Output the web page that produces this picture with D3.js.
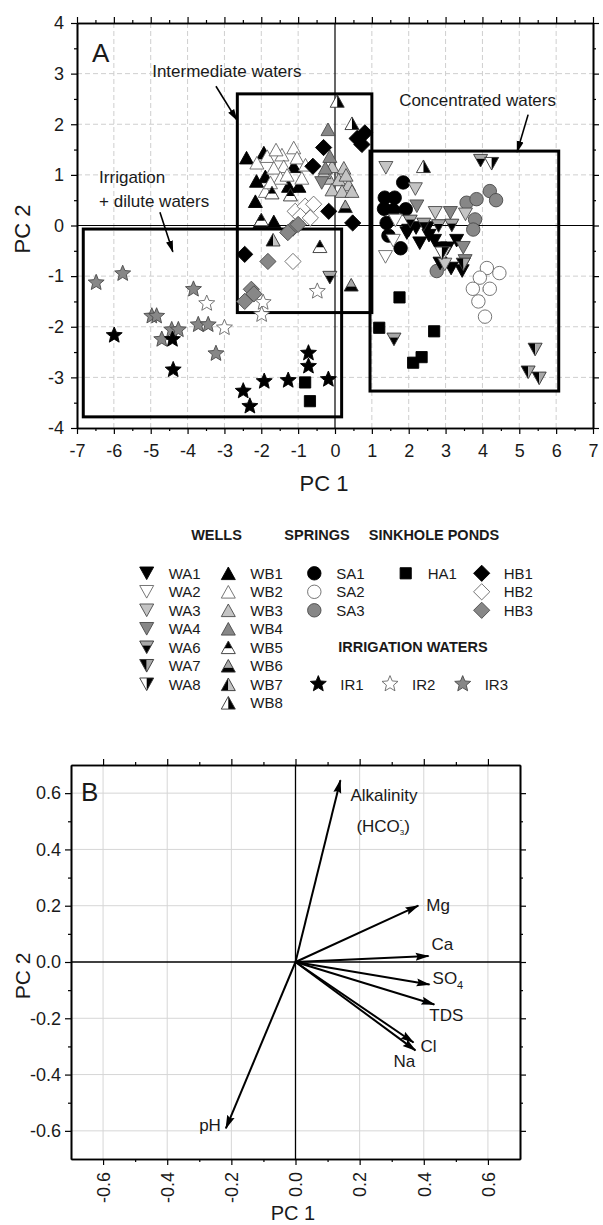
<!DOCTYPE html>
<html><head><meta charset="utf-8">
<script src="https://cdn.jsdelivr.net/npm/d3@7/dist/d3.min.js"></script>
<style>
body{margin:0;background:#fff}
svg{display:block}
text{font-family:"Liberation Sans",Arial,Helvetica,sans-serif;fill:#1a1a1a}
</style>
</head><body>
<svg id="c" width="603" height="1225"></svg>
<script>
// ---------------- DATA: panel A scores (PC1, PC2) ----------------
const WA1 = [[1.95,-0.15],[2.0,-0.1],[2.3,-0.35],[2.55,-0.2],[2.85,-0.45],[3.05,-0.45],[2.85,-0.75],[3.15,-0.85],[3.45,-0.9],[2.5,-0.05],[3.3,-0.3],[2.2,-0.05],[2.7,-0.3]];
const WA2 = [[1.37,-0.62],[1.64,0.1],[1.58,-0.3],[2.95,-0.55]];
const WA3 = [[1.38,1.14],[2.18,0.72],[2.72,0.25],[3.54,0.22],[2.98,-0.77]];
const WA4 = [[2.22,0.38],[3.13,0.25],[3.48,-0.44],[3.53,-0.7],[-0.36,0.84]];
const WA6 = [[2.04,0.08],[2.41,0.02],[2.81,-0.01],[3.17,0.0],[-0.14,-1.03],[1.6,-2.25],[3.95,1.28]];
const WA7 = [[5.43,-2.45],[5.24,-2.9],[5.54,-3.02],[3.48,-0.77]];
const WA8 = [[4.25,1.22],[2.9,-0.55]];
const WB1 = [[-2.4,1.34],[-1.93,1.44],[-1.12,1.17],[-1.89,0.97],[-1.26,0.78],[-0.98,0.78],[-2.16,0.48],[-2.03,0.08],[-1.66,0.08],[-2.13,0.88]];
const WB2 = [[-2.12,1.24],[-1.84,1.37],[-1.44,1.40],[-1.12,1.54],[-1.03,1.34],[-1.39,1.17],[-1.66,1.14],[-1.48,0.94],[-1.89,0.68],[-0.90,0.94],[-1.6,1.5],[-1.3,1.0],[-1.75,0.85],[-0.8,1.2]];
const WB3 = [[-0.08,1.17],[0.24,1.14],[-0.17,0.94],[0.10,0.91],[0.37,0.81],[-0.08,0.71],[0.19,0.68],[0.46,0.68],[0.3,1.0],[-0.3,1.05]];
const WB4 = [[-0.19,1.9],[-0.26,1.14],[-0.14,1.37]];
const WB5 = [[-0.41,-0.41],[-2.0,0.12],[-1.71,0.65],[-1.21,0.61]];
const WB6 = [[0.28,0.38],[0.44,-1.17]];
const WB7 = [[-1.68,-0.28]];
const WB8 = [[0.06,2.46],[0.46,2.02],[2.40,1.17]];
const SA1 = [[1.85,0.85],[1.35,0.55],[1.62,0.55],[1.33,0.33],[1.58,0.3],[1.92,0.32],[1.45,-0.2],[1.78,-0.45],[1.4,0.05]];
const SA2 = [[4.12,-0.84],[4.46,-0.94],[3.93,-1.03],[4.2,-1.25],[3.74,-1.25],[3.89,-1.5],[4.07,-1.8]];
const SA3 = [[3.57,0.45],[3.84,0.52],[4.2,0.68],[4.37,0.5],[3.8,0.12],[3.75,-0.08],[2.76,-0.9]];
const HA1 = [[-0.81,-3.1],[-0.68,-3.47],[1.75,-1.42],[1.2,-2.02],[2.69,-2.09],[2.12,-2.71],[2.35,-2.6]];
const HB1 = [[-0.31,1.54],[-0.6,1.17],[0.73,1.6],[0.81,1.83],[0.6,1.72],[-0.17,0.28],[0.48,0.05],[-2.45,-0.57]];
const HB2 = [[-1.08,0.28],[-0.81,0.38],[-0.58,0.42],[-0.94,0.18],[-0.67,0.15],[-1.14,-0.71]];
const HB3 = [[-1.82,-0.71],[-2.27,-1.26],[-2.45,-1.5],[-1.14,-0.05],[-1.0,0.02],[-1.28,-0.14],[-2.2,-1.35]];
const IR1 = [[-5.99,-2.17],[-4.41,-2.25],[-4.39,-2.85],[-2.49,-3.27],[-2.31,-3.57],[-1.92,-3.08],[-1.27,-3.06],[-0.72,-2.52],[-0.72,-2.78],[-0.18,-3.04]];
const IR2 = [[-3.48,-1.54],[-3.0,-2.02],[-1.95,-1.52],[-1.99,-1.76],[-0.48,-1.3]];
const IR3 = [[-6.48,-1.13],[-5.76,-0.95],[-4.97,-1.79],[-4.84,-1.79],[-4.7,-2.25],[-4.43,-2.06],[-4.25,-2.06],[-3.84,-1.26],[-3.71,-1.96],[-3.44,-1.96],[-3.23,-2.53]];

// group boxes (PC1 min/max, PC2 min/max)
const boxNames = ["Irrigation","Intermediate","Concentrated"];
const boxX0 = [-6.83, -2.65, 0.95];
const boxX1 = [0.18, 1.0, 6.07];
const boxY0 = [-3.78, -1.72, -3.27];
const boxY1 = [-0.07, 2.6, 1.47];

// ticks
const ticksA_x = [-7,-6,-5,-4,-3,-2,-1,0,1,2,3,4,5,6,7];
const ticksA_y = [-4,-3,-2,-1,0,1,2,3,4];
const ticksB = [-0.6,-0.4,-0.2,0.0,0.2,0.4,0.6];

// ---------------- DATA: panel B loadings ----------------
const loadVars = ["Alkalinity","Mg","Ca","SO4","TDS","Cl","Na","pH"];
const loadPC1 = [0.14, 0.383, 0.415, 0.418, 0.433, 0.368, 0.374, -0.217];
const loadPC2 = [0.646, 0.20, 0.021, -0.08, -0.151, -0.286, -0.314, -0.591];

// ---------------- styles ----------------
const BLACK="#000", WHITE="#fff", LIGHT="#c4c4c4", GRAY="#878787", MID="#a8a8a8";
const styles = {
  WA1:{shape:"down",fill:BLACK}, WA2:{shape:"down",fill:WHITE}, WA3:{shape:"down",fill:LIGHT}, WA4:{shape:"down",fill:GRAY},
  WA6:{shape:"down",fill:MID,fill2:BLACK,split:"tb",at:-0.15}, WA7:{shape:"down",fill:BLACK,fill2:MID,split:"lr"}, WA8:{shape:"down",fill:WHITE,fill2:BLACK,split:"lr"},
  WB1:{shape:"up",fill:BLACK}, WB2:{shape:"up",fill:WHITE}, WB3:{shape:"up",fill:LIGHT}, WB4:{shape:"up",fill:GRAY},
  WB5:{shape:"up",fill:BLACK,fill2:WHITE,split:"tb",at:0.1}, WB6:{shape:"up",fill:MID,fill2:BLACK,split:"tb",at:0.15},
  WB7:{shape:"up",fill:BLACK,fill2:LIGHT,split:"lr"}, WB8:{shape:"up",fill:WHITE,fill2:BLACK,split:"lr"},
  SA1:{shape:"circle",fill:BLACK}, SA2:{shape:"circle",fill:WHITE}, SA3:{shape:"circle",fill:GRAY},
  HA1:{shape:"square",fill:BLACK},
  HB1:{shape:"diamond",fill:BLACK}, HB2:{shape:"diamond",fill:WHITE}, HB3:{shape:"diamond",fill:GRAY},
  IR1:{shape:"star",fill:BLACK}, IR2:{shape:"star",fill:WHITE}, IR3:{shape:"star",fill:GRAY}
};
const seriesData = {WA1,WA2,WA3,WA4,WA6,WA7,WA8,WB1,WB2,WB3,WB4,WB5,WB6,WB7,WB8,SA1,SA2,SA3,HA1,HB1,HB2,HB3,IR1,IR2,IR3};
const drawOrder = ["SA1","SA2","SA3","HA1","WB1","WB2","WB3","WB4","WB5","WB6","WB7","WB8","WA1","WA2","WA3","WA4","WA6","WA7","WA8","HB1","HB2","HB3","IR3","IR2","IR1"];

const SZ = 14;
function shapePath(shape, s){
  const h = s*0.9;
  switch(shape){
    case "down": return `M${-s/2},${-h/2}L${s/2},${-h/2}L0,${h/2}Z`;
    case "up": return `M${-s/2},${h/2}L${s/2},${h/2}L0,${-h/2}Z`;
    case "circle": { const r=s*0.48; return `M${r},0A${r},${r} 0 1,1 ${-r},0A${r},${r} 0 1,1 ${r},0Z`; }
    case "square": { const a=s*0.4; return `M${-a},${-a}H${a}V${a}H${-a}Z`; }
    case "diamond": { const d=s*0.58; return `M0,${-d}L${d},0L0,${d}L${-d},0Z`; }
    case "star": { let p=""; const R=s*0.6, r=R*0.45; for(let i=0;i<10;i++){const a=-Math.PI/2+i*Math.PI/5; const rr=i%2?r:R; p+=(i?"L":"M")+(rr*Math.cos(a)).toFixed(2)+","+(rr*Math.sin(a)).toFixed(2);} return p+"Z"; }
  }
}
function strokeFor(f){ return f===BLACK? "#000" : (f===WHITE? "#666" : "#4a4a4a"); }

const svg = d3.select("#c");
svg.append("rect").attr("width",603).attr("height",1225).attr("fill","#fff");
const defs = svg.append("defs");

// clip paths for split markers
Object.entries(styles).forEach(([k,st])=>{
  if(!st.split) return;
  const h = SZ*0.9;
  const a = defs.append("clipPath").attr("id",`clip-${k}-a`).attr("clipPathUnits","userSpaceOnUse");
  const b = defs.append("clipPath").attr("id",`clip-${k}-b`).attr("clipPathUnits","userSpaceOnUse");
  if(st.split==="lr"){
    a.append("rect").attr("x",-20).attr("y",-20).attr("width",20).attr("height",40);
    b.append("rect").attr("x",0).attr("y",-20).attr("width",20).attr("height",40);
  } else {
    const sy = st.at*h;
    a.append("rect").attr("x",-20).attr("y",-20).attr("width",40).attr("height",20+sy);
    b.append("rect").attr("x",-20).attr("y",sy).attr("width",40).attr("height",20);
  }
});

function drawMarker(g, key){
  const st = styles[key];
  const d = shapePath(st.shape, SZ);
  if(!st.split){
    g.append("path").attr("d",d).attr("fill",st.fill).attr("stroke",strokeFor(st.fill)).attr("stroke-width",0.9);
  } else {
    g.append("path").attr("d",d).attr("fill",st.fill).attr("clip-path",`url(#clip-${key}-a)`);
    g.append("path").attr("d",d).attr("fill",st.fill2).attr("clip-path",`url(#clip-${key}-b)`);
    g.append("path").attr("d",d).attr("fill","none").attr("stroke","#333").attr("stroke-width",0.9);
  }
}

// arrow markers
defs.append("marker").attr("id","arrA").attr("markerUnits","userSpaceOnUse")
  .attr("viewBox","0 -5 12 10").attr("refX",11).attr("refY",0).attr("markerWidth",12).attr("markerHeight",10).attr("orient","auto")
  .append("path").attr("d","M0,-3.5L12,0L0,3.5Z").attr("fill","#000");
defs.append("marker").attr("id","arrB").attr("markerUnits","userSpaceOnUse")
  .attr("viewBox","0 -5 14 10").attr("refX",13).attr("refY",0).attr("markerWidth",14).attr("markerHeight",10).attr("orient","auto")
  .append("path").attr("d","M0,-4L14,0L0,4L2,0Z").attr("fill","#000");

function styleAxis(sel, fs){
  sel.select(".domain").attr("stroke","#000").attr("stroke-width",1.6);
  sel.selectAll(".tick line").attr("stroke","#000").attr("stroke-width",1.2);
  sel.selectAll(".tick text").attr("font-size",fs).attr("fill","#1a1a1a").attr("font-family","Liberation Sans, Arial, sans-serif");
}

// ================= PANEL A =================
const xA = d3.scaleLinear().domain([-7,7]).range([77,593]);
const yA = d3.scaleLinear().domain([-4,4]).range([428,23]);
const gA = svg.append("g");

// grid
gA.append("g").selectAll("line").data(ticksA_x.filter(v=>v!==0 && v!==-7 && v!==7)).join("line")
  .attr("x1",d=>xA(d)).attr("x2",d=>xA(d)).attr("y1",yA(4)).attr("y2",yA(-4))
  .attr("stroke","#cfcfcf").attr("stroke-width",1).attr("stroke-dasharray","5,3");
gA.append("g").selectAll("line").data(ticksA_y.filter(v=>v!==0 && v!==-4 && v!==4)).join("line")
  .attr("x1",xA(-7)).attr("x2",xA(7)).attr("y1",d=>yA(d)).attr("y2",d=>yA(d))
  .attr("stroke","#cfcfcf").attr("stroke-width",1).attr("stroke-dasharray","5,3");
// zero lines
gA.append("line").attr("x1",xA(0)).attr("x2",xA(0)).attr("y1",yA(4)).attr("y2",yA(-4)).attr("stroke","#000").attr("stroke-width",1.2);
gA.append("line").attr("x1",xA(-7)).attr("x2",xA(7)).attr("y1",yA(0)).attr("y2",yA(0)).attr("stroke","#000").attr("stroke-width",1.2);

// boxes
gA.append("g").selectAll("rect").data(boxNames).join("rect")
  .attr("x",(d,i)=>xA(boxX0[i])).attr("y",(d,i)=>yA(boxY1[i]))
  .attr("width",(d,i)=>xA(boxX1[i])-xA(boxX0[i])).attr("height",(d,i)=>yA(boxY0[i])-yA(boxY1[i]))
  .attr("fill","none").attr("stroke","#000").attr("stroke-width",3);

// points
drawOrder.forEach(k=>{
  seriesData[k].forEach(p=>{
    const g = gA.append("g").attr("transform",`translate(${xA(p[0])},${yA(p[1])})`);
    drawMarker(g,k);
  });
});

// axes A
const minorA_x = d3.range(-13,14,2).map(v=>v/2);
const minorA_y = d3.range(-7,8,2).map(v=>v/2);
const fmtA = d=>String(d);
let ax;
ax = gA.append("g").attr("transform",`translate(0,${yA(-4)})`).call(d3.axisBottom(xA).tickValues(ticksA_x).tickFormat(fmtA).tickSize(6).tickPadding(10).tickSizeOuter(0)); styleAxis(ax,"18px");
ax = gA.append("g").attr("transform",`translate(0,${yA(-4)})`).call(d3.axisBottom(xA).tickValues(minorA_x).tickFormat("").tickSize(3).tickSizeOuter(0)); styleAxis(ax,"18px");
ax = gA.append("g").attr("transform",`translate(0,${yA(4)})`).call(d3.axisTop(xA).tickValues(ticksA_x).tickFormat("").tickSize(6).tickSizeOuter(0)); styleAxis(ax,"18px");
ax = gA.append("g").attr("transform",`translate(0,${yA(4)})`).call(d3.axisTop(xA).tickValues(minorA_x).tickFormat("").tickSize(3).tickSizeOuter(0)); styleAxis(ax,"18px");
ax = gA.append("g").attr("transform",`translate(${xA(-7)},0)`).call(d3.axisLeft(yA).tickValues(ticksA_y).tickFormat(fmtA).tickSize(6).tickPadding(7).tickSizeOuter(0)); styleAxis(ax,"18px");
ax = gA.append("g").attr("transform",`translate(${xA(-7)},0)`).call(d3.axisLeft(yA).tickValues(minorA_y).tickFormat("").tickSize(3).tickSizeOuter(0)); styleAxis(ax,"18px");
ax = gA.append("g").attr("transform",`translate(${xA(7)},0)`).call(d3.axisRight(yA).tickValues(ticksA_y).tickFormat("").tickSize(6).tickSizeOuter(0)); styleAxis(ax,"18px");
ax = gA.append("g").attr("transform",`translate(${xA(7)},0)`).call(d3.axisRight(yA).tickValues(minorA_y).tickFormat("").tickSize(3).tickSizeOuter(0)); styleAxis(ax,"18px");

// titles A
gA.append("text").attr("x",324).attr("y",491).attr("text-anchor","middle").attr("font-size","22px").text("PC 1");
gA.append("text").attr("transform","translate(30,229) rotate(-90)").attr("text-anchor","middle").attr("font-size","22px").text("PC 2");
gA.append("text").attr("x",92).attr("y",62).attr("font-size","26px").text("A");

// annotations
const annText = ["Intermediate waters","Concentrated waters","Irrigation","+ dilute waters"];
const annX = [-4.96, 1.74, -6.4, -6.4];
const annY = [2.94, 2.37, 0.83, 0.36];
gA.append("g").selectAll("text").data(annText).join("text")
  .attr("x",(d,i)=>xA(annX[i])).attr("y",(d,i)=>yA(annY[i])).attr("font-size","17px").text(d=>d);
const arrFrom = [[-3.23,2.75],[5.24,2.19],[-4.75,0.26]];
const arrTo = [[-2.66,2.08],[4.94,1.45],[-4.4,-0.52]];
gA.append("g").selectAll("line").data(arrFrom).join("line")
  .attr("x1",(d)=>xA(d[0])).attr("y1",d=>yA(d[1]))
  .attr("x2",(d,i)=>xA(arrTo[i][0])).attr("y2",(d,i)=>yA(arrTo[i][1]))
  .attr("stroke","#000").attr("stroke-width",1.6).attr("marker-end","url(#arrA)");

// ================= LEGEND =================
const legHeaders = ["WELLS","SPRINGS","SINKHOLE PONDS","IRRIGATION WATERS"];
const legHeaderX = [216.5, 317, 434, 413];
const legHeaderY = [540, 540, 540, 652];
svg.append("g").selectAll("text").data(legHeaders).join("text")
  .attr("x",(d,i)=>legHeaderX[i]).attr("y",(d,i)=>legHeaderY[i]).attr("text-anchor","middle")
  .attr("font-size","14.5px").attr("font-weight","bold").text(d=>d);

const legCols = [
  ["WA1","WA2","WA3","WA4","WA6","WA7","WA8"],
  ["WB1","WB2","WB3","WB4","WB5","WB6","WB7","WB8"],
  ["SA1","SA2","SA3"],
  ["HA1"],
  ["HB1","HB2","HB3"]
];
const legColX = [146.7, 228.3, 314.3, 405.7, 481.7];
const legRow0 = 573.3, legRowStep = 18.5;
const gL = svg.append("g");
legCols.forEach((col,ci)=>{
  col.forEach((k,ri)=>{
    const cy = legRow0 + ri*legRowStep;
    const g = gL.append("g").attr("transform",`translate(${legColX[ci]},${cy})`);
    drawMarker(g,k);
    gL.append("text").attr("x",legColX[ci]+22).attr("y",cy+5.5).attr("font-size","15px").text(k);
  });
});
const legIR = ["IR1","IR2","IR3"];
const legIRX = [318.3, 390, 462.7];
const legIRY = 684;
legIR.forEach((k,i)=>{
  const g = gL.append("g").attr("transform",`translate(${legIRX[i]},${legIRY})`);
  drawMarker(g,k);
  gL.append("text").attr("x",legIRX[i]+22).attr("y",legIRY+5.5).attr("font-size","15px").text(k);
});

// ================= PANEL B =================
const xB = d3.scaleLinear().domain([-0.7,0.7]).range([71,520]);
const yB = d3.scaleLinear().domain([-0.7,0.7]).range([1159,765]);
const gB = svg.append("g");
const gridB = ticksB.filter(v=>Math.abs(v)>1e-9);
gB.append("g").selectAll("line").data(gridB).join("line")
  .attr("x1",d=>xB(d)).attr("x2",d=>xB(d)).attr("y1",yB(0.7)).attr("y2",yB(-0.7))
  .attr("stroke","#d6d6d6").attr("stroke-width",1);
gB.append("g").selectAll("line").data(gridB).join("line")
  .attr("x1",xB(-0.7)).attr("x2",xB(0.7)).attr("y1",d=>yB(d)).attr("y2",d=>yB(d))
  .attr("stroke","#d6d6d6").attr("stroke-width",1);
gB.append("line").attr("x1",xB(0)).attr("x2",xB(0)).attr("y1",yB(0.7)).attr("y2",yB(-0.7)).attr("stroke","#000").attr("stroke-width",1.3);
gB.append("line").attr("x1",xB(-0.7)).attr("x2",xB(0.7)).attr("y1",yB(0)).attr("y2",yB(0)).attr("stroke","#000").attr("stroke-width",1.3);

const minorB = [-0.5,-0.3,-0.1,0.1,0.3,0.5];
const fmtB = d=> (d< -1e-9 ? "-" : "") + Math.abs(d).toFixed(1);
ax = gB.append("g").attr("transform",`translate(0,${yB(-0.7)})`).call(d3.axisBottom(xB).tickValues(ticksB).tickFormat(fmtB).tickSize(6).tickSizeOuter(0)); styleAxis(ax,"18px");
ax.selectAll(".tick text").attr("transform","rotate(-90)").attr("x",-13).attr("y",0).attr("dy","0.35em").attr("text-anchor","end");
ax = gB.append("g").attr("transform",`translate(0,${yB(-0.7)})`).call(d3.axisBottom(xB).tickValues(minorB).tickFormat("").tickSize(3).tickSizeOuter(0)); styleAxis(ax,"18px");
ax = gB.append("g").attr("transform",`translate(0,${yB(0.7)})`).call(d3.axisTop(xB).tickValues(ticksB).tickFormat("").tickSize(6).tickSizeOuter(0)); styleAxis(ax,"18px");
ax = gB.append("g").attr("transform",`translate(0,${yB(0.7)})`).call(d3.axisTop(xB).tickValues(minorB).tickFormat("").tickSize(3).tickSizeOuter(0)); styleAxis(ax,"18px");
ax = gB.append("g").attr("transform",`translate(${xB(-0.7)},0)`).call(d3.axisLeft(yB).tickValues(ticksB).tickFormat(fmtB).tickSize(6).tickPadding(4).tickSizeOuter(0)); styleAxis(ax,"18px");
ax = gB.append("g").attr("transform",`translate(${xB(-0.7)},0)`).call(d3.axisLeft(yB).tickValues(minorB).tickFormat("").tickSize(3).tickSizeOuter(0)); styleAxis(ax,"18px");
ax = gB.append("g").attr("transform",`translate(${xB(0.7)},0)`).call(d3.axisRight(yB).tickValues(ticksB).tickFormat("").tickSize(6).tickSizeOuter(0)); styleAxis(ax,"18px");
ax = gB.append("g").attr("transform",`translate(${xB(0.7)},0)`).call(d3.axisRight(yB).tickValues(minorB).tickFormat("").tickSize(3).tickSizeOuter(0)); styleAxis(ax,"18px");

gB.append("text").attr("x",293).attr("y",1220).attr("text-anchor","middle").attr("font-size","20px").text("PC 1");
gB.append("text").attr("transform","translate(30,976) rotate(-90)").attr("text-anchor","middle").attr("font-size","21px").text("PC 2");
gB.append("text").attr("x",81).attr("y",801).attr("font-size","26px").text("B");

// loading arrows
gB.append("g").selectAll("line").data(loadVars).join("line")
  .attr("x1",xB(0)).attr("y1",yB(0))
  .attr("x2",(d,i)=>xB(loadPC1[i])).attr("y2",(d,i)=>yB(loadPC2[i]))
  .attr("stroke","#000").attr("stroke-width",2).attr("marker-end","url(#arrB)");

// loading labels (offsets from arrow tips, px)
const labDX = [10, 8, 3, 3, -5, 7, -22, -5];
const labDY = [21, 5, -6, -1, 17, 10, 17, 3];
const labAnchor = ["start","start","start","start","start","start","start","end"];
const gLab = gB.append("g").attr("font-size","17px");
loadVars.forEach((v,i)=>{
  const t = gLab.append("text").attr("x",xB(loadPC1[i])+labDX[i]).attr("y",yB(loadPC2[i])+labDY[i]).attr("text-anchor",labAnchor[i]).attr("font-size","17px");
  if(v==="SO4"){ t.text("SO"); t.append("tspan").attr("font-size","11px").attr("dy",5).text("4"); }
  else t.text(v);
});
// (HCO3-) second line for Alkalinity
const hx = xB(loadPC1[0])+16, hy = yB(loadPC2[0])+52;
const hco = gLab.append("text").attr("x",hx).attr("y",hy).attr("font-size","17px");
hco.append("tspan").text("(HCO");
hco.append("tspan").attr("font-size","8px").attr("dy",3).text("3");
hco.append("tspan").attr("dy",-3).text(")");
gLab.append("text").attr("x",hx+43).attr("y",hy-9).attr("font-size","9px").text("-");
</script>
</body></html>
